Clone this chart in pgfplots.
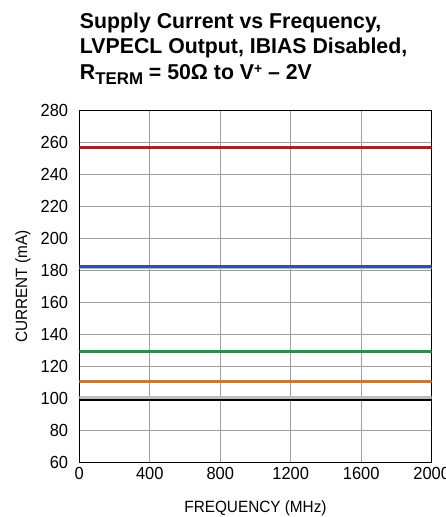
\documentclass[border=0pt]{standalone}
\usepackage{fontspec}
\setmainfont{Liberation Sans}[FakeStretch=0.94]
\newfontfamily\titlefont{Liberation Sans}[FakeStretch=0.99]
\usepackage{pgfplots}
\pgfplotsset{compat=1.18}
\usetikzlibrary{calc}
\definecolor{cred}{RGB}{168,32,40}
\definecolor{cblue}{RGB}{50,80,170}
\definecolor{cbluehalo}{RGB}{170,180,205}
\definecolor{cgreen}{RGB}{48,140,72}
\definecolor{corange}{RGB}{200,120,60}
\definecolor{cgray}{RGB}{190,190,190}
\begin{document}
\begin{tikzpicture}
\begin{axis}[name=ax,
  scale only axis, width=352.4pt, height=351.6pt,
  xmin=0, xmax=2000, ymin=60, ymax=280,
  xtick={0,400,800,1200,1600,2000},
  ytick={60,80,100,120,140,160,180,200,220,240,260,280},
  grid=major,
  major grid style={gray!75, line width=0.9pt},
  axis line style={black, line width=1.3pt},
  major tick length=0pt,
  /pgf/number format/assume math mode=true,
  /pgf/number format/set thousands separator={},
  ticklabel style={font=\fontsize{17.5}{17.5}\selectfont},
  yticklabel style={inner sep=0pt, anchor=east, xshift=-11pt},
  xticklabel style={inner sep=0pt, anchor=north, yshift=-4.4pt},
  xlabel={FREQUENCY (MHz)},
  ylabel={CURRENT (mA)},
  label style={font=\fontsize{16.3}{16.3}\selectfont},
  xlabel style={at={(axis description cs:0.5,0)}, anchor=base, yshift=-49.7pt, inner sep=0pt},
  ylabel style={at={(axis description cs:0,0.5)}, anchor=center, yshift=56.3pt, inner sep=0pt},
]
\addplot[cred, line width=2.6pt] coordinates {(0,256.8) (2000,256.8)};
\addplot[cbluehalo, line width=1.5pt] coordinates {(0,181.2) (2000,181.2)};
\addplot[cblue, line width=2.6pt] coordinates {(0,182.6) (2000,182.6)};
\addplot[cgreen, line width=2.6pt] coordinates {(0,129.4) (2000,129.4)};
\addplot[corange, line width=2.6pt] coordinates {(0,110.6) (2000,110.6)};
\addplot[cgray, line width=2.6pt] coordinates {(0,100.7) (2000,100.7)};
\addplot[black, line width=2.8pt] coordinates {(0,99.0) (2000,99.0)};
\end{axis}
\begin{scope}[every node/.style={inner sep=0pt, anchor=base west, font=\titlefont\fontsize{21.5}{21.5}\selectfont\bfseries}]
\node at ($(ax.north west)+(0.5pt,82.4pt)$) {Supply Current vs Frequency,};
\node at ($(ax.north west)+(0.5pt,57.4pt)$) {LVPECL Output, IBIAS Disabled,};
\node at ($(ax.north west)+(0.5pt,30.7pt)$) {R\raisebox{-4.5pt}{\fontsize{17}{17}\selectfont TERM} = 50Ω to V\raisebox{6.5pt}{\fontsize{14}{14}\selectfont +} – 2V};
\end{scope}
\pgfresetboundingbox
\path ($(ax.south west)+(-79.3pt,-54.7pt)$) rectangle ($(ax.north east)+(13.3pt,110.7pt)$);
\end{tikzpicture}
\end{document}
